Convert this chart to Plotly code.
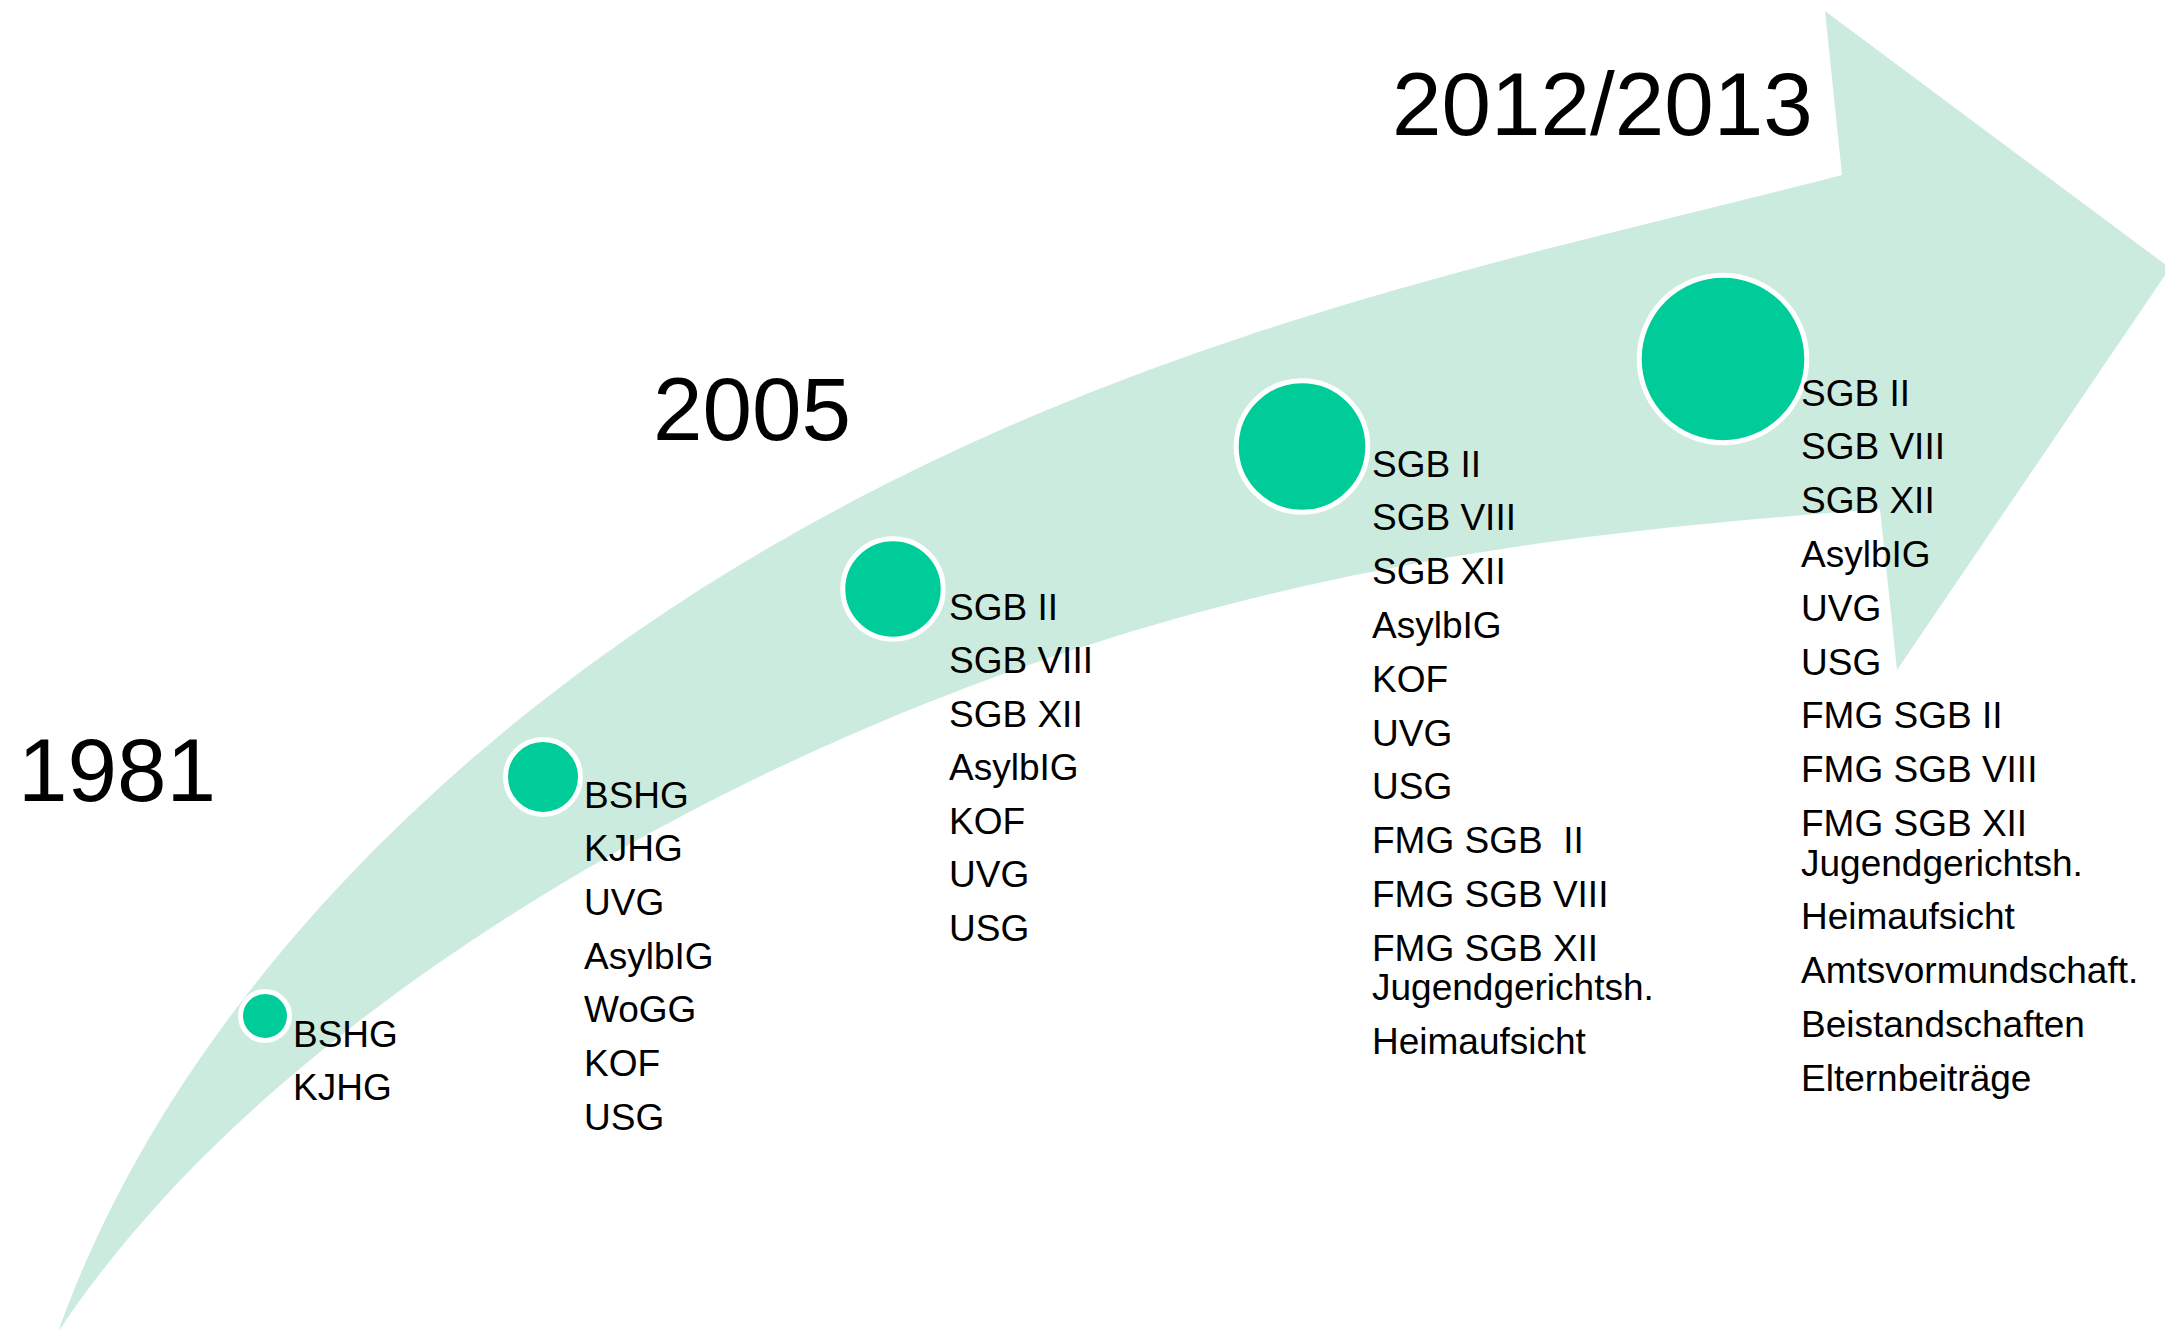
import numpy as np
import plotly.graph_objects as go

# ---------------- data ----------------
years = ["1981", "2005", "2012/2013"]

stage_laws = [
    ["BSHG", "KJHG"],
    ["BSHG", "KJHG", "UVG", "AsylbIG", "WoGG", "KOF", "USG"],
    ["SGB II", "SGB VIII", "SGB XII", "AsylbIG", "KOF", "UVG", "USG"],
    ["SGB II", "SGB VIII", "SGB XII", "AsylbIG", "KOF", "UVG", "USG",
     "FMG SGB\u00a0 II", "FMG SGB VIII", "FMG SGB XII\nJugendgerichtsh.", "Heimaufsicht"],
    ["SGB II", "SGB VIII", "SGB XII", "AsylbIG", "UVG", "USG",
     "FMG SGB II", "FMG SGB VIII", "FMG SGB XII\nJugendgerichtsh.", "Heimaufsicht",
     "Amtsvormundschaft.", "Beistandschaften", "Elternbeiträge"],
]

stage_radius = [22, 35, 47.7, 63.3, 81.3]

# ---------------- layout (pixel canvas) ----------------
W, H = 2165, 1330
circle_cx = [265, 543, 893, 1302, 1723]
circle_cy = [1016, 777, 589, 446.5, 359]
list_x = [293, 584, 949, 1372, 1801]
list_base0 = [1047, 808, 620, 477, 406]
list_pitch = [53, 53.7, 53.5, 53.8, 53.8]
sub_pitch = 39.5
year_x = [18, 653, 1392]
year_base = [801, 440, 135]

FONT = "Liberation Sans, Arial, sans-serif"
LIST_FS = 37
YEAR_FS = 89
BAND = "#CCEBDF"
DOT = "#00CC99"
RING = 5

outer_edge = [(58, 1332), (89, 1250), (134, 1167), (187, 1077), (250, 990), (312, 917),
              (375, 850), (500, 733), (610, 650), (653, 623), (877, 488), (1050, 407),
              (1217, 347), (1383, 293), (1550, 250), (1780, 187), (1842, 175)]
inner_edge = [(1880, 509), (1740, 519), (1550, 543), (1383, 570), (1217, 610), (1050, 650),
              (908, 715), (704, 807), (594, 862), (491, 928), (402, 990), (312, 1057),
              (223, 1137), (143, 1223), (58, 1332)]
head = [(1825, 11), (2170, 268), (1897, 670)]


def smooth_edge(pts, deg=5, n=160):
    p = np.array(pts, dtype=float)
    d = np.r_[0, np.cumsum(np.hypot(*np.diff(p, axis=0).T))]
    t = d / d[-1]
    w = np.ones(len(t))
    w[0] = w[-1] = 20
    cx = np.polyfit(t, p[:, 0], deg, w=w)
    cy = np.polyfit(t, p[:, 1], deg, w=w)
    ts = np.linspace(0, 1, n)
    xs, ys = np.polyval(cx, ts), np.polyval(cy, ts)
    xs[0], ys[0] = p[0]
    xs[-1], ys[-1] = p[-1]
    return list(zip(xs, ys))


outer_s = smooth_edge(outer_edge)
inner_s = smooth_edge(inner_edge)
poly = outer_s + head + inner_s
path = "M " + " L ".join(f"{x:.1f},{y:.1f}" for x, y in poly) + " Z"

fig = go.Figure()

fig.add_trace(go.Scatter(
    x=circle_cx, y=circle_cy, mode="markers",
    marker=dict(size=[2 * r + RING for r in stage_radius], color=DOT,
                line=dict(color="white", width=RING), opacity=1),
    hoverinfo="skip", showlegend=False))

annotations = []
for i, laws in enumerate(stage_laws):
    b = list_base0[i]
    for k, item in enumerate(laws):
        parts = item.split("\n")
        for j, part in enumerate(parts):
            annotations.append(dict(
                x=list_x[i] - 2, y=b - 0.3465 * LIST_FS, xref="x", yref="y",
                text=part, showarrow=False, xanchor="left", yanchor="middle",
                font=dict(family=FONT, size=LIST_FS, color="black")))
            if j < len(parts) - 1:
                b += sub_pitch
        b += list_pitch[i]

for i, yr in enumerate(years):
    annotations.append(dict(
        x=year_x[i] - 2, y=year_base[i] - 0.3465 * YEAR_FS, xref="x", yref="y",
        text=yr, showarrow=False, xanchor="left", yanchor="middle",
        font=dict(family=FONT, size=YEAR_FS, color="black")))

fig.update_layout(
    width=W, height=H, autosize=False,
    margin=dict(l=0, r=0, t=0, b=0, pad=0),
    paper_bgcolor="white", plot_bgcolor="white",
    xaxis=dict(range=[0, W], visible=False, fixedrange=True),
    yaxis=dict(range=[H, 0], visible=False, fixedrange=True),
    shapes=[dict(type="path", path=path, xref="x", yref="y",
                 fillcolor=BAND, line=dict(width=0), layer="below")],
    annotations=annotations,
    showlegend=False,
)

fig.write_html("out.html", config={"displayModeBar": False},
               post_script="document.body.style.margin='0';document.body.style.overflow='hidden';")
